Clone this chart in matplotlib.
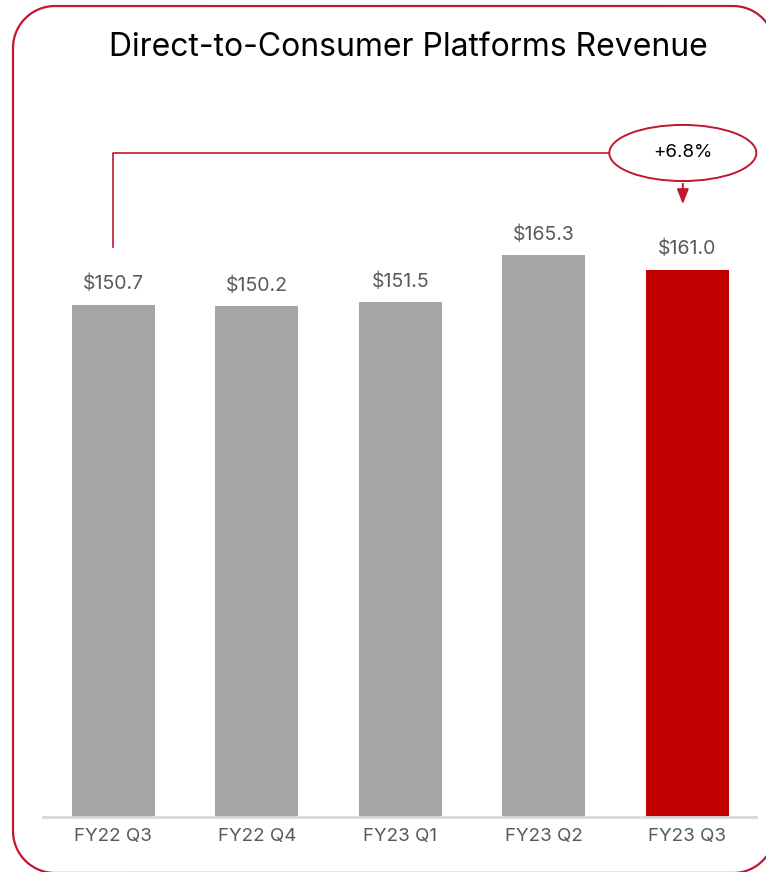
import numpy as np
import matplotlib.pyplot as plt
from matplotlib.patches import Ellipse

plt.rcParams['font.family'] = ['Inter', 'DejaVu Sans']

# data
quarters = ["FY22 Q3", "FY22 Q4", "FY23 Q1", "FY23 Q2", "FY23 Q3"]
revenue = [150.7, 150.2, 151.5, 165.3, 161.0]
bar_colors = ["#A5A5A5", "#A5A5A5", "#A5A5A5", "#A5A5A5", "#C00000"]
growth_label = "+6.8%"

red_line = "#C0182F"
label_gray = "#595959"

fig = plt.figure(figsize=(7.66, 8.72), dpi=100)


def rounded_rect(x0, y0, x1, y1, r, n=40):
    # sampled outline so agg does not mangle curves that leave the canvas
    pts = []
    corners = [(x1 - r, y1 - r, 0), (x0 + r, y1 - r, 90),
               (x0 + r, y0 + r, 180), (x1 - r, y0 + r, 270)]
    for cx, cy, a0 in corners:
        t = np.radians(np.linspace(a0, a0 + 90, n))
        pts.append(np.column_stack([cx + r * np.cos(t), cy + r * np.sin(t)]))
    pts = np.vstack(pts + [pts[0][:1]])
    return pts[:, 0], pts[:, 1]


# border in pixel space, runs off the right and bottom edge like the slide crop
bg = fig.add_axes([0, 0, 1, 1])
bg.set_xlim(0, 766)
bg.set_ylim(0, 872)
bg.axis('off')
bx, by = rounded_rect(13, -1, 775, 866, 42)
bg.plot(bx, by, color=red_line, linewidth=1.6, clip_on=True)

ax = fig.add_axes([43/766, 1 - 817/872, 713/766, 714/872])
ax.patch.set_alpha(0)
x = np.arange(len(quarters))
bars = ax.bar(x, revenue, width=0.58, color=bar_colors, zorder=2)

ax.set_xlim(-0.49, 4.48)
ax.set_ylim(0, 210)

for xi, v in zip(x, revenue):
    ax.text(xi, v + 6, f"${v:.1f}", ha='center', va='center', fontsize=14,
            color=label_gray)

ax.set_xticks(x)
ax.set_xticklabels(quarters, fontsize=13.5, color=label_gray)
ax.tick_params(axis='x', length=0, pad=8)
ax.set_yticks([])
for s in ['top', 'right', 'left']:
    ax.spines[s].set_visible(False)
ax.spines['bottom'].set_color("#D9D9D9")
ax.spines['bottom'].set_linewidth(2)

# growth bracket from first to last bar
y_top = 195.3
ell_x, ell_w, ell_h = 3.97, 1.025, 16.5
ax.plot([x[0], x[0], ell_x - ell_w / 2], [revenue[0] + 17, y_top, y_top],
        color=red_line, linewidth=1.2, clip_on=False)
ax.add_patch(Ellipse((ell_x, y_top), ell_w, ell_h, fill=False,
                     edgecolor=red_line, linewidth=1.4, clip_on=False))
ax.text(ell_x, y_top, growth_label, ha='center', va='center', fontsize=13.5,
        color='black')
ax.annotate("", xy=(ell_x, revenue[4] + 18.4), xytext=(ell_x, y_top - ell_h / 2),
            arrowprops=dict(arrowstyle='-|>,head_width=0.35,head_length=0.9',
                            color=red_line, linewidth=1.4))

fig.text(408/766, 1 - 48/872, "Direct-to-Consumer Platforms Revenue",
         ha='center', va='center', fontsize=23, color='black')

fig.savefig("out.png", dpi=100)
